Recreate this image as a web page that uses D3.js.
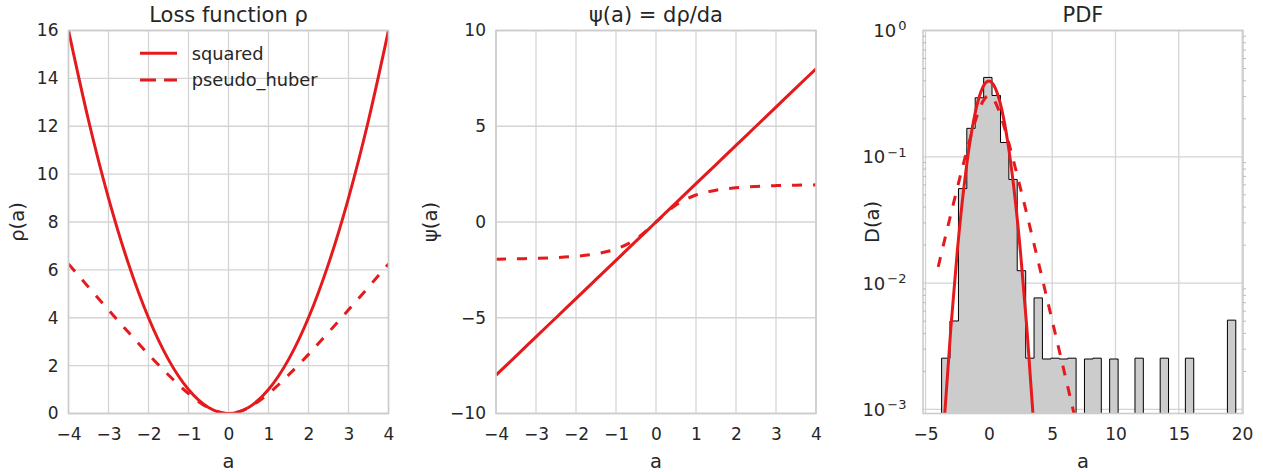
<!DOCTYPE html>
<html>
<head>
<meta charset="utf-8">
<script src="https://cdn.jsdelivr.net/npm/d3@7"></script>
<style>
  body { margin: 0; background: #fff; }
  text { font-family: "DejaVu Sans", sans-serif; fill: #262626; }
  .tick text { font-size: 17px; }
  .grid { stroke: #d4d4d4; stroke-width: 1.3; }
  .frame { fill: none; stroke: #cccccc; stroke-width: 1.6; }
  .curve { fill: none; stroke: #e41a1c; stroke-width: 3; }
  .dashed { stroke-dasharray: 10,11; }
</style>
</head>
<body>
<div id="chart"></div>
<script>
// ---- values ----
var aGrid = [-4, -3.5, -3, -2.5, -2, -1.5, -1, -0.5, 0, 0.5, 1, 1.5, 2, 2.5, 3, 3.5, 4];

// panel 1: loss rho(a)
var rhoSquared = [16, 12.25, 9, 6.25, 4, 2.25, 1, 0.25, 0, 0.25, 1, 2.25, 4, 6.25, 9, 12.25, 16];
var rhoPseudoHuber = [6.25, 5.28, 4.33, 3.39, 2.47, 1.61, 0.83, 0.24, 0, 0.24, 0.83, 1.61, 2.47, 3.39, 4.33, 5.28, 6.25];

// panel 2: psi(a) = d rho / da
var psiSquared = [-8, -7, -6, -5, -4, -3, -2, -1, 0, 1, 2, 3, 4, 5, 6, 7, 8];
var psiPseudoHuber = [-1.94, -1.92, -1.90, -1.86, -1.79, -1.66, -1.41, -0.89, 0, 0.89, 1.41, 1.66, 1.79, 1.86, 1.90, 1.92, 1.94];

// panel 3: PDF curves (log y)
var pdfSquared = [0.000134, 0.000873, 0.00443, 0.0175, 0.054, 0.1295, 0.242, 0.352, 0.399,
                  0.352, 0.242, 0.1295, 0.054, 0.0175, 0.00443, 0.000873, 0.000134];
var pdfGridHuber = [-4, -3.5, -3, -2.5, -2, -1.5, -1, -0.5, 0, 0.5, 1, 1.5, 2, 2.5, 3, 3.5, 4,
                    4.5, 5, 5.5, 6, 6.5, 7];
var pdfPseudoHuber = [0.01345, 0.0218, 0.0352, 0.0562, 0.0888, 0.1369, 0.202, 0.2716, 0.3056,
                      0.2716, 0.202, 0.1369, 0.0888, 0.0562, 0.0352, 0.0218, 0.01345,
                      0.00827, 0.00507, 0.0031, 0.0019, 0.00116, 0.000706];

// histogram of the sample (35 bins)
var binEdges = [-3.73, -3.07, -2.40, -1.74, -1.08, -0.41, 0.25, 0.92, 1.58, 2.24, 2.91, 3.57,
                4.23, 4.90, 5.56, 6.23, 6.89, 7.55, 8.22, 8.88, 9.54, 10.21, 10.87, 11.54,
                12.20, 12.86, 13.53, 14.19, 14.85, 15.52, 16.18, 16.84, 17.51, 18.17, 18.84, 19.50];
var binCounts = [1, 2, 22, 66, 117, 167, 122, 51, 26, 5, 1, 3, 1, 1, 1, 1, 0, 1, 1, 0,
                 1, 0, 0, 1, 0, 0, 1, 0, 0, 1, 0, 0, 0, 0, 2];

// tick labels
var abTicks = [-4, -3, -2, -1, 0, 1, 2, 3, 4];
var rhoTicks = [0, 2, 4, 6, 8, 10, 12, 14, 16];
var psiTicks = [-10, -5, 0, 5, 10];
var pdfXTicks = [-5, 0, 5, 10, 15, 20];
var pdfYTicks = [1e-3, 1e-2, 1e-1, 1];
var pdfYExp = ["\u22123", "\u22122", "\u22121", "0"];

var titles = ["Loss function \u03c1", "\u03c8(a) = d\u03c1/da", "PDF"];
var yLabels = ["\u03c1(a)", "\u03c8(a)", "D(a)"];
var seriesNames = ["squared", "pseudo_huber"];

// ---- layout ----
var W = 320, H = 383, TOP = 30.5;
var panelLeft = [68.5, 496, 923];

var svg = d3.select("#chart")
  .append("svg")
    .attr("width", 1263)
    .attr("height", 472);

function makePanel(i, x, y, xTicks, yTicks, yFmt) {
  var g = svg.append("g")
    .attr("transform", "translate(" + panelLeft[i] + "," + TOP + ")");

  g.append("clipPath").attr("id", "clip" + i)
    .append("rect").attr("width", W).attr("height", H);

  // grid lines
  g.append("g").selectAll("line").data(xTicks).enter().append("line")
    .attr("class", "grid")
    .attr("x1", d => x(d)).attr("x2", d => x(d))
    .attr("y1", 0).attr("y2", H);
  g.append("g").selectAll("line").data(yTicks).enter().append("line")
    .attr("class", "grid")
    .attr("x1", 0).attr("x2", W)
    .attr("y1", d => y(d)).attr("y2", d => y(d));

  var xa = g.append("g")
    .attr("transform", "translate(0," + H + ")")
    .call(d3.axisBottom(x).tickValues(xTicks).tickSize(0).tickPadding(14));
  xa.select(".domain").remove();

  var ya = g.append("g")
    .call(d3.axisLeft(y).tickValues(yTicks).tickSize(0).tickPadding(10).tickFormat(yFmt));
  ya.select(".domain").remove();

  var plot = g.append("g").attr("clip-path", "url(#clip" + i + ")");

  // title, labels
  g.append("text")
    .attr("x", W / 2).attr("y", -9)
    .attr("text-anchor", "middle")
    .style("font-size", "21px")
    .text(titles[i]);
  g.append("text")
    .attr("x", W / 2).attr("y", H + 54)
    .attr("text-anchor", "middle")
    .style("font-size", "19.5px")
    .text("a");

  var frame = g.append("rect")
    .attr("class", "frame")
    .attr("width", W).attr("height", H);

  return {g: g, plot: plot, frame: frame};
}

function yLabel(cx, i) {
  svg.append("text")
    .attr("transform", "translate(" + cx + "," + (TOP + H / 2) + ") rotate(-90)")
    .attr("text-anchor", "middle")
    .attr("dy", "0.35em")
    .style("font-size", "19.5px")
    .text(yLabels[i]);
}

// ---- panel 1 ----
var x1 = d3.scaleLinear().domain([-4, 4]).range([0, W]);
var y1 = d3.scaleLinear().domain([0, 16]).range([H, 0]);
var p1 = makePanel(0, x1, y1, abTicks, rhoTicks, d3.format("d"));
yLabel(17, 0);

var line1 = d3.line().x((d, k) => x1(aGrid[k])).y(d => y1(d)).curve(d3.curveMonotoneX);
p1.plot.append("path").attr("class", "curve").attr("d", line1(rhoSquared));
p1.plot.append("path").attr("class", "curve dashed").attr("d", line1(rhoPseudoHuber));

// legend
var legend = p1.g.append("g").attr("transform", "translate(" + (140 - panelLeft[0]) + "," + (53.3 - TOP) + ")");
seriesNames.forEach(function(name, k) {
  var row = legend.append("g").attr("transform", "translate(0," + (k * 26.7) + ")");
  row.append("line")
    .attr("class", "curve")
    .attr("x1", 0).attr("x2", 37).attr("y1", 0).attr("y2", 0)
    .style("stroke-dasharray", k ? "16,8" : null);
  row.append("text")
    .attr("x", 51.7).attr("y", 0).attr("dy", "0.35em")
    .style("font-size", "17.8px")
    .text(name);
});

// ---- panel 2 ----
var x2 = d3.scaleLinear().domain([-4, 4]).range([0, W]);
var y2 = d3.scaleLinear().domain([-10, 10]).range([H, 0]);
var p2 = makePanel(1, x2, y2, abTicks, psiTicks, d3.format("d"));
yLabel(430, 1);

var line2 = d3.line().x((d, k) => x2(aGrid[k])).y(d => y2(d)).curve(d3.curveMonotoneX);
p2.plot.append("path").attr("class", "curve").attr("d", line2(psiSquared));
p2.plot.append("path").attr("class", "curve dashed").attr("d", line2(psiPseudoHuber));

// ---- panel 3 ----
var x3 = d3.scaleLinear().domain([-5.2, 20.07]).range([0, W]);
var y3 = d3.scaleLog().domain([Math.pow(10, -3.032), 1]).range([H, 0]);
var p3 = makePanel(2, x3, y3, pdfXTicks, pdfYTicks, () => "");
yLabel(872, 2);

// log tick labels 10^n
pdfYTicks.forEach(function(v, k) {
  var t = p3.g.append("text")
    .attr("x", -16.5).attr("y", y3(v)).attr("dy", "0.36em")
    .attr("text-anchor", "end")
    .style("font-size", "18px");
  t.append("tspan").text("10");
  t.append("tspan")
    .attr("dx", 2).attr("dy", "-0.5em")
    .style("font-size", "13px")
    .text(pdfYExp[k]);
});

// minor ticks on the log axis
var minor = [];
[-3, -2, -1].forEach(function(e) {
  for (var m = 2; m < 10; m++) minor.push(m * Math.pow(10, e));
});
p3.g.append("g").selectAll("line").data(minor).enter().append("line")
  .attr("x1", 0).attr("x2", 3)
  .attr("y1", d => y3(d)).attr("y2", d => y3(d))
  .style("stroke", "#bbbbbb").style("stroke-width", 1);
p3.g.append("g").selectAll("line").data(minor).enter().append("line")
  .attr("x1", W).attr("x2", W + 3)
  .attr("y1", d => y3(d)).attr("y2", d => y3(d))
  .style("stroke", "#bbbbbb").style("stroke-width", 1);

// histogram as a filled step outline (density)
var sampleSize = d3.sum(binCounts);
var histPts = [[x3(binEdges[0]), H]];
binCounts.forEach(function(c, k) {
  var w = binEdges[k + 1] - binEdges[k];
  var yy = c > 0 ? y3(c / (sampleSize * w)) : H;
  histPts.push([x3(binEdges[k]), yy]);
  histPts.push([x3(binEdges[k + 1]), yy]);
});
histPts.push([x3(binEdges[binEdges.length - 1]), H]);

p3.plot.append("path")
  .attr("d", d3.line()(histPts) + "Z")
  .style("fill", "#cccccc")
  .style("stroke", "#000")
  .style("stroke-width", 1);

var line3a = d3.line().x((d, k) => x3(aGrid[k])).y(d => y3(d)).curve(d3.curveMonotoneX);
var line3b = d3.line().x((d, k) => x3(pdfGridHuber[k])).y(d => y3(d)).curve(d3.curveMonotoneX);
p3.plot.append("path").attr("class", "curve").attr("d", line3a(pdfSquared));
p3.plot.append("path").attr("class", "curve dashed").attr("d", line3b(pdfPseudoHuber));
</script>
</body>
</html>
